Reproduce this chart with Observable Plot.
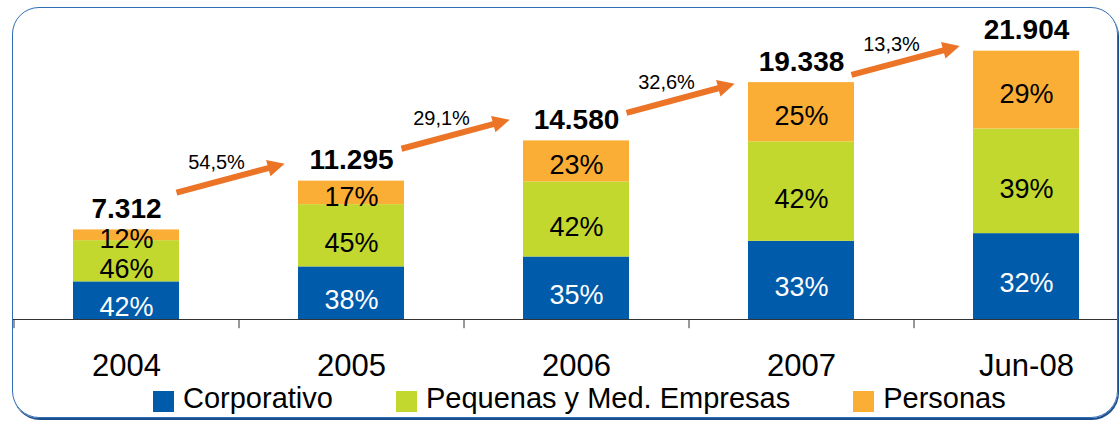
<!DOCTYPE html>
<html>
<head>
<meta charset="utf-8">
<script src="https://cdn.jsdelivr.net/npm/d3@7"></script>
<script src="https://cdn.jsdelivr.net/npm/@observablehq/plot@0.6"></script>
<style>
  html, body { margin: 0; padding: 0; background: #fff; }
  #wrap { position: relative; width: 1119px; height: 422px; overflow: hidden; font-family: "Liberation Sans", Arial, sans-serif; }
  #frame { position: absolute; left: 12px; top: 7px; width: 1106px; height: 411px; border: 1px solid #2f6db5; border-radius: 27px; box-shadow: 1px 2px 0 #1c4f8c; pointer-events: none; box-sizing: border-box; }
  #legend { position: absolute; left: 153px; top: 382px; display: flex; gap: 63px; align-items: center; font-size: 29px; color: #000; white-space: nowrap; }
  #legend .item { display: flex; align-items: center; }
  #legend .sw { width: 21px; height: 21px; margin-right: 9px; margin-top: 6px; }
  svg { position: absolute; left: 0; top: 0; overflow: visible; }
</style>
</head>
<body>
<div id="wrap"><div id="chart"></div><div id="frame"></div><div id="legend"></div></div>
<script>
// ---- data ----
const categories = ["2004", "2005", "2006", "2007", "Jun-08"];
const totals = [7312, 11295, 14580, 19338, 21904];
const series = ["Corporativo", "Pequenas y Med. Empresas", "Personas"];
const corporativo = [42, 38, 35, 33, 32];
const pymes = [46, 45, 42, 42, 39];
const personas = [12, 17, 23, 25, 29];
const growth = [54.5, 29.1, 32.6, 13.3];
// vertical level (in chart units) where each growth arrow starts
const arrowLevels = [10350, 13940, 16870, 19970];

const colors = ["#005BAA", "#C2D82E", "#FBAE36"];
const labelColors = ["white", "black", "black"];
const labelShift = [7, 8, 4];
const arrowColor = "#EC7426";

const locale = d3.formatLocale({decimal: ",", thousands: ".", grouping: [3], currency: ["", ""]});
const fmtTotal = locale.format(",d");
const fmtGrowth = locale.format(".1f");

const pctBySeries = [corporativo, pymes, personas];
const rows = [];
categories.forEach((cat, i) => {
  let acc = 0;
  series.forEach((s, j) => {
    const pct = pctBySeries[j][i];
    const v = totals[i] * pct / 100;
    rows.push({cat, series: s, pct, y1: acc, y2: acc + v, mid: acc + v / 2});
    acc += v;
  });
});
const totalRows = categories.map((cat, i) => ({cat, total: totals[i]}));
const arrowRows = growth.map((g, i) => ({cat: categories[i], level: arrowLevels[i], label: fmtGrowth(g) + "%"}));

const arrowShape = {
  draw(context, l) {
    const hl = 17, hw = 8.5, sw = 3;
    context.moveTo(-sw, 0);
    context.lineTo(-sw, -l + hl);
    context.lineTo(-hw, -l + hl);
    context.lineTo(0, -l);
    context.lineTo(hw, -l + hl);
    context.lineTo(sw, -l + hl);
    context.lineTo(sw, 0);
    context.closePath();
  }
};

const segmentLabels = series.map((s, j) =>
  Plot.text(rows.filter(d => d.series === s), {x: "cat", y: "mid", text: d => d.pct + "%", fill: labelColors[j], fontSize: 27, dy: labelShift[j]})
);

const chart = Plot.plot({
  width: 1119,
  height: 422,
  marginLeft: 13,
  marginRight: 0,
  marginTop: 49.5,
  marginBottom: 103,
  style: {fontFamily: "'Liberation Sans', Arial, sans-serif", background: "transparent", overflow: "visible"},
  x: {type: "band", domain: categories, range: [13, 1138], paddingInner: 0.529, paddingOuter: 0.2645, axis: null},
  y: {domain: [0, 22000], axis: null},
  color: {domain: series, range: colors},
  marks: [
    Plot.barY(rows, {x: "cat", y1: "y1", y2: "y2", fill: "series"}),
    ...segmentLabels,
    Plot.text(totalRows, {x: "cat", y: "total", text: d => fmtTotal(d.total), fontSize: 28, fontWeight: "bold", fill: "black", lineAnchor: "bottom", dy: -12}),
    Plot.ruleY([0], {stroke: "#333", strokeWidth: 1}),
    Plot.ruleX(categories, {x: d => d, y1: () => 0, y2: () => -750, dx: -112.5, stroke: "#333", strokeWidth: 1}),
    Plot.text(categories, {x: d => d, y: () => 0, text: d => d, fontSize: 31, fill: "black", dy: 47}),
    Plot.vector(arrowRows, {x: "cat", y: "level", length: 112, rotate: 75, anchor: "start", shape: arrowShape, fill: arrowColor, stroke: "none", dx: 50}),
    Plot.text(arrowRows, {x: "cat", y: "level", text: "label", fontSize: 20, fill: "black", dx: 90, dy: -30})
  ]
});
document.getElementById("chart").appendChild(chart);

const legend = document.getElementById("legend");
series.forEach((s, j) => {
  const item = document.createElement("div");
  item.className = "item";
  const sw = document.createElement("span");
  sw.className = "sw";
  sw.style.background = colors[j];
  const t = document.createElement("span");
  t.textContent = s;
  item.appendChild(sw);
  item.appendChild(t);
  legend.appendChild(item);
});
</script>
</body>
</html>
